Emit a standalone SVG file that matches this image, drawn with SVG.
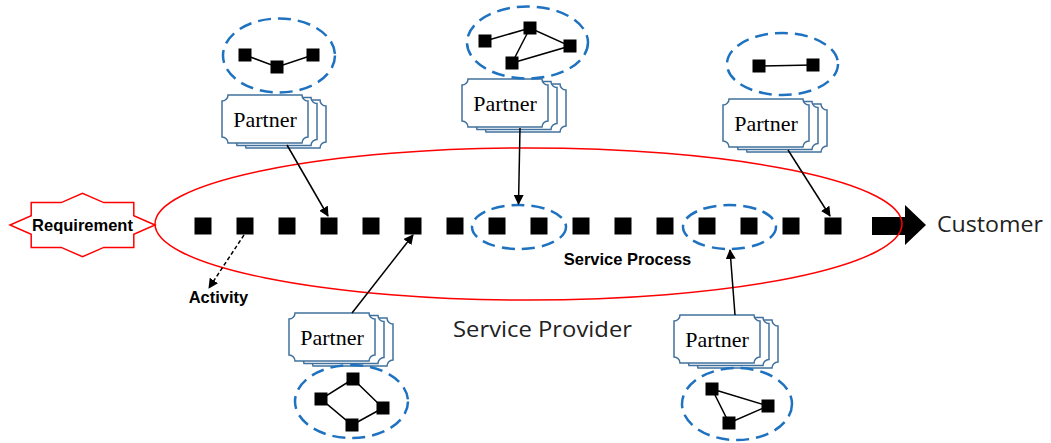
<svg xmlns="http://www.w3.org/2000/svg" width="1051" height="443" viewBox="0 0 1051 443">
<style>
.doc{fill:#fff;stroke:#41719C;stroke-width:1.5}
.ptxt{font-family:"Liberation Serif",serif;font-size:22px;fill:#000;text-anchor:middle}
.grp{fill:none;stroke:#1F72C0;stroke-width:2.5;stroke-dasharray:13 7}
.sq{fill:#000}
.ln{stroke:#000;stroke-width:1.5;fill:none}
.arr{stroke:#000;stroke-width:1.5;fill:none;marker-end:url(#ah)}
.bold{font-family:"Liberation Sans",Arial,sans-serif;font-weight:bold;font-size:16.5px;fill:#000;text-anchor:middle}
.big{font-family:"Open Sans","Noto Sans",sans-serif;font-size:21px;fill:#222}
</style>
<defs>
<marker id="ah" markerWidth="10" markerHeight="10" refX="9" refY="5" orient="auto" markerUnits="userSpaceOnUse">
<path d="M0,0 L10,5 L0,10 Z" fill="#000"/>
</marker>
<path id="doc" d="M6,0 H80 A6,6 0 0 0 86,6 V42 A6,6 0 0 0 80,48 H6 A6,6 0 0 0 0,42 V6 A6,6 0 0 0 6,0 Z"/>
<g id="stack">
<use href="#doc" class="doc" transform="translate(18,5)"/>
<use href="#doc" class="doc" transform="translate(9,2.5)"/>
<use href="#doc" class="doc"/>
</g>
</defs>

<g id="process">
<rect class="sq" x="194.5" y="217.5" width="17" height="17"/>
<rect class="sq" x="236.5" y="217.5" width="17" height="17"/>
<rect class="sq" x="278.5" y="217.5" width="17" height="17"/>
<rect class="sq" x="320.5" y="217.5" width="17" height="17"/>
<rect class="sq" x="362.5" y="217.5" width="17" height="17"/>
<rect class="sq" x="404.5" y="217.5" width="17" height="17"/>
<rect class="sq" x="446.5" y="217.5" width="17" height="17"/>
<rect class="sq" x="488.5" y="217.5" width="17" height="17"/>
<rect class="sq" x="530.5" y="217.5" width="17" height="17"/>
<rect class="sq" x="572.5" y="217.5" width="17" height="17"/>
<rect class="sq" x="614.5" y="217.5" width="17" height="17"/>
<rect class="sq" x="656.5" y="217.5" width="17" height="17"/>
<rect class="sq" x="698.5" y="217.5" width="17" height="17"/>
<rect class="sq" x="740.5" y="217.5" width="17" height="17"/>
<rect class="sq" x="782.5" y="217.5" width="17" height="17"/>
<rect class="sq" x="824.5" y="217.5" width="17" height="17"/>
<polygon points="872,217 905,217 905,205 926,225 905,245 905,235 872,235" fill="#000"/>
<ellipse class="grp" cx="519" cy="227" rx="47" ry="22"/>
<ellipse class="grp" cx="729.5" cy="227" rx="46.5" ry="22"/>
<text class="bold" x="627.5" y="265">Service Process</text>
</g>

<g id="provider">
<ellipse cx="528.5" cy="224" rx="373.5" ry="76" fill="none" stroke="#FF0000" stroke-width="1.5"/>
<text class="big" x="542.5" y="337" text-anchor="middle" textLength="179" lengthAdjust="spacingAndGlyphs">Service Provider</text>
</g>

<g id="requirement">
<polygon points="155,225 133.8,215.7 133.8,202.6 103.8,202.6 82.5,193.3 61.2,202.6 31.2,202.6 31.2,215.7 10,225 31.2,234.3 31.2,247.4 61.2,247.4 82.5,256.7 103.8,247.4 133.8,247.4 133.8,234.3" fill="#fff" stroke="#FF0000" stroke-width="1.5"/>
<text class="bold" x="82.5" y="231" font-size="15">Requirement</text>
</g>

<g id="customer">
<text class="big" x="937" y="232" textLength="106" lengthAdjust="spacingAndGlyphs">Customer</text>
</g>

<g id="activity">
<text class="bold" x="218.5" y="303" font-size="17">Activity</text>
</g>

<g id="partner1">
<use href="#stack" transform="translate(222,95)"/>
<text class="ptxt" x="265" y="127">Partner</text>
<ellipse class="grp" cx="279" cy="55.5" rx="56" ry="37"/>
<polyline class="ln" points="245,55 277,67 313,55"/>
<rect class="sq" x="238.5" y="48.5" width="13" height="13"/>
<rect class="sq" x="270.5" y="60.5" width="13" height="13"/>
<rect class="sq" x="306.5" y="48.5" width="13" height="13"/>
</g>

<g id="partner2">
<use href="#stack" transform="translate(462,79)"/>
<text class="ptxt" x="505" y="111">Partner</text>
<ellipse class="grp" cx="527.5" cy="42.5" rx="60.5" ry="36"/>
<path class="ln" d="M485,41 L530,28 L570,46 L512,63 L530,28"/>
<rect class="sq" x="478.5" y="34.5" width="13" height="13"/>
<rect class="sq" x="523.5" y="21.5" width="13" height="13"/>
<rect class="sq" x="563.5" y="39.5" width="13" height="13"/>
<rect class="sq" x="505.5" y="56.5" width="13" height="13"/>
</g>

<g id="partner3">
<use href="#stack" transform="translate(723,99)"/>
<text class="ptxt" x="766" y="131">Partner</text>
<ellipse class="grp" cx="782.5" cy="64" rx="55.5" ry="31"/>
<line class="ln" x1="759" y1="66" x2="813" y2="65"/>
<rect class="sq" x="752.5" y="59.5" width="13" height="13"/>
<rect class="sq" x="806.5" y="58.5" width="13" height="13"/>
</g>

<g id="partner4">
<use href="#stack" transform="translate(289,313)"/>
<text class="ptxt" x="332" y="345">Partner</text>
<ellipse class="grp" cx="351.5" cy="401.5" rx="56.5" ry="36.5"/>
<polygon class="ln" points="353,379 321,399 352,425 383,408"/>
<rect class="sq" x="346.5" y="372.5" width="13" height="13"/>
<rect class="sq" x="314.5" y="392.5" width="13" height="13"/>
<rect class="sq" x="376.5" y="401.5" width="13" height="13"/>
<rect class="sq" x="345.5" y="418.5" width="13" height="13"/>
</g>

<g id="partner5">
<use href="#stack" transform="translate(674,315)"/>
<text class="ptxt" x="717" y="347">Partner</text>
<ellipse class="grp" cx="737" cy="404" rx="55" ry="36"/>
<polygon class="ln" points="712,389 768,406 729,423"/>
<rect class="sq" x="705.5" y="382.5" width="13" height="13"/>
<rect class="sq" x="761.5" y="399.5" width="13" height="13"/>
<rect class="sq" x="722.5" y="416.5" width="13" height="13"/>
</g>

<g id="connectors">
<line class="arr" x1="287" y1="145" x2="328" y2="216"/>
<line class="arr" x1="520" y1="128" x2="518.5" y2="204"/>
<line class="arr" x1="788" y1="150" x2="830" y2="216"/>
<line class="arr" x1="352" y1="313" x2="413" y2="235"/>
<line class="arr" x1="735" y1="315" x2="730" y2="250"/>
<line class="arr" x1="244" y1="235" x2="209" y2="288" stroke-dasharray="4 2.5"/>
</g>
</svg>
